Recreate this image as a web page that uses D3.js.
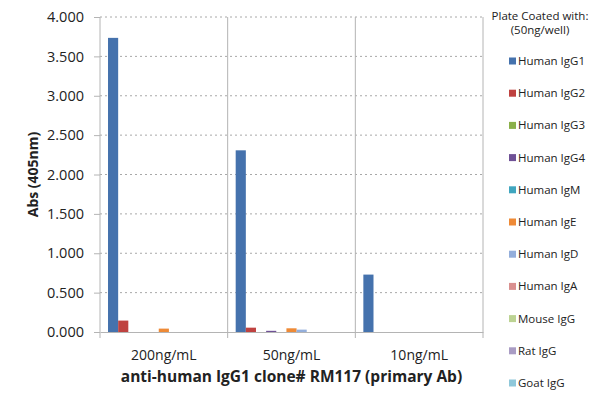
<!DOCTYPE html>
<html>
<head>
<meta charset="utf-8">
<script src="https://cdn.jsdelivr.net/npm/d3@7"></script>
<style>
  body { margin: 0; background: #fff; }
  text { font-family: "Open Sans", sans-serif; fill: #222; }
</style>
</head>
<body>
<div id="chart"></div>
<script>
// Data
const categories = ["200ng/mL", "50ng/mL", "10ng/mL"];
const seriesNames = ["Human IgG1", "Human IgG2", "Human IgG3", "Human IgG4", "Human IgM",
    "Human IgE", "Human IgD", "Human IgA", "Mouse IgG", "Rat IgG", "Goat IgG"];
const humanIgG1 = [3.735, 2.307, 0.729];
const humanIgG2 = [0.145, 0.055, 0];
const humanIgG3 = [0, 0, 0];
const humanIgG4 = [0, 0.015, 0];
const humanIgM = [0, 0, 0];
const humanIgE = [0.043, 0.047, 0];
const humanIgD = [0, 0.03, 0];
const humanIgA = [0, 0, 0];
const mouseIgG = [0, 0, 0];
const ratIgG = [0, 0, 0];
const goatIgG = [0, 0, 0];
const yTicks = [0, 0.5, 1, 1.5, 2, 2.5, 3, 3.5, 4];

const seriesValues = [humanIgG1, humanIgG2, humanIgG3, humanIgG4, humanIgM,
    humanIgE, humanIgD, humanIgA, mouseIgG, ratIgG, goatIgG];
const colors = ["#4572ad", "#bf4240", "#8bb04a", "#6f5196", "#40a6bf", "#ee8a36",
    "#93aedb", "#d9908f", "#bcd393", "#a99cc4", "#8fc8da"];

let width = 600,
    height = 404;

let margin = { top: 17, left: 100, right: 117, bottom: 72 };
let plotW = width - margin.left - margin.right,
    plotH = height - margin.top - margin.bottom;

let svg = d3.select("#chart")
    .append("svg")
    .attr("width", width)
    .attr("height", height);

let g = svg.append("g")
    .attr("transform", `translate(${margin.left},${margin.top})`);

// Scales
let x0 = d3.scaleBand()
    .domain(categories)
    .range([0, plotW]);

let x1 = d3.scaleBand()
    .domain(seriesNames)
    .range([0, x0.bandwidth()])
    .paddingOuter(0.79);

let y = d3.scaleLinear()
    .domain([0, 4])
    .range([plotH, 0]);

let color = d3.scaleOrdinal()
    .domain(seriesNames)
    .range(colors);

// Dotted horizontal gridlines
g.selectAll("line.grid")
    .data(yTicks.filter(d => d > 0))
    .enter()
    .append("line")
    .attr("x1", 0)
    .attr("x2", plotW)
    .attr("y1", d => y(d))
    .attr("y2", d => y(d))
    .attr("stroke", "#a8a8a8")
    .attr("stroke-dasharray", "2,3");

// Category separators
g.selectAll("line.sep")
    .data(categories)
    .enter()
    .append("line")
    .attr("x1", d => x0(d) + x0.bandwidth())
    .attr("x2", d => x0(d) + x0.bandwidth())
    .attr("y1", 0)
    .attr("y2", plotH + 6)
    .attr("stroke", "#b4b4b4");

// Y axis
let yAxis = g.append("g")
    .call(d3.axisLeft(y).tickValues(yTicks).tickFormat(d3.format(".3f")).tickSizeOuter(0).tickPadding(10));
yAxis.select(".domain").attr("stroke", "#b4b4b4").attr("d", `M0,0V${plotH + 6}`);
yAxis.selectAll(".tick line").attr("stroke", "#b4b4b4");
yAxis.selectAll(".tick text").style("font-size", "14.5px").attr("fill", "#222");

// X axis
let xAxis = g.append("g")
    .attr("transform", `translate(0,${plotH})`)
    .call(d3.axisBottom(x0).tickSize(0).tickSizeOuter(0).tickPadding(18));
xAxis.select(".domain").attr("stroke", "#b4b4b4");
xAxis.selectAll(".tick text").style("font-size", "14px").attr("fill", "#222");

// Bars
let bars = [];
seriesValues.forEach((vals, i) => {
    vals.forEach((v, j) => bars.push({ series: seriesNames[i], cat: categories[j], value: v }));
});

g.selectAll("rect.bar")
    .data(bars)
    .enter()
    .append("rect")
    .attr("x", d => x0(d.cat) + x1(d.series))
    .attr("y", d => y(d.value))
    .attr("width", x1.bandwidth())
    .attr("height", d => plotH - y(d.value))
    .attr("fill", d => color(d.series));

// Axis titles
svg.append("text")
    .attr("x", margin.left + plotW / 2)
    .attr("y", 382)
    .attr("text-anchor", "middle")
    .style("font-size", "15.5px")
    .style("font-weight", "bold")
    .text("anti-human IgG1 clone# RM117 (primary Ab)");

svg.append("text")
    .attr("transform", "rotate(-90)")
    .attr("x", -(margin.top + plotH / 2))
    .attr("y", 38)
    .attr("text-anchor", "middle")
    .style("font-size", "14px")
    .style("font-weight", "bold")
    .text("Abs (405nm)");

// Legend
let legend = svg.append("g");
legend.append("text")
    .attr("x", 540)
    .attr("y", 20)
    .attr("text-anchor", "middle")
    .style("font-size", "11.5px")
    .text("Plate Coated with:");
legend.append("text")
    .attr("x", 540)
    .attr("y", 34)
    .attr("text-anchor", "middle")
    .style("font-size", "11.5px")
    .text("(50ng/well)");

seriesNames.forEach((name, i) => {
    let ly = 61 + i * 32.2;
    legend.append("rect")
        .attr("x", 509)
        .attr("y", ly - 3.5)
        .attr("width", 7)
        .attr("height", 7)
        .attr("fill", color(name));
    legend.append("text")
        .attr("x", 518)
        .attr("y", ly + 4)
        .style("font-size", "11.5px")
        .text(name);
});
</script>
</body>
</html>
